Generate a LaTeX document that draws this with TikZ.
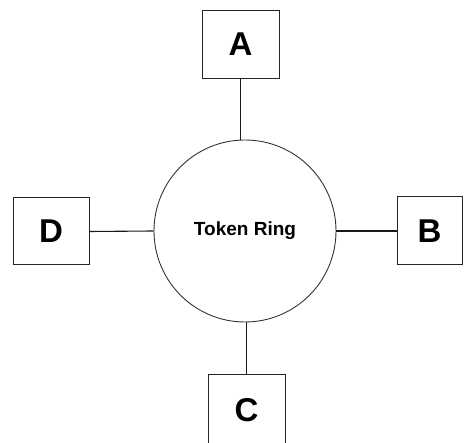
\documentclass[tikz,border=0pt]{standalone}
\usepackage{fontspec}
\setmainfont{Liberation Sans}
\begin{document}
\begin{tikzpicture}[x=1pt,y=-1pt,
  station/.style={draw=black!85, line width=1pt, minimum width=77pt, minimum height=68pt,
    inner sep=0pt, font=\fontsize{33}{33}\selectfont\bfseries},
  ringnode/.style={draw=black!80, line width=0.9pt, circle, minimum size=182pt, inner sep=0pt,
    font=\fontsize{19}{19}\selectfont\bfseries},
  link/.style={draw=black!90, line width=1.1pt}]
  \useasboundingbox (0,0) rectangle (467,443);
  \clip (0,0) rectangle (467,443);
  \node[ringnode] (ring) at (245,231) {Token Ring};
  \node[station] (A) at (240.5,44.5) {A};
  \node[station, minimum width=76pt, minimum height=67pt] (D) at (51,231.5) {D};
  \node[station, minimum width=65pt] (B) at (429.5,231) {B};
  \node[station, minimum height=80pt, text depth=0pt] (C) at (246.5,415) {};
  \node[font=\fontsize{33}{33}\selectfont\bfseries] (Clabel) at (246.5,410) {C};
  \draw[link] (A.south) -- (A.south |- ring.north);
  \draw[link] (D.east) -- (ring.west);
  \draw[link] (ring.east) -- (B.west);
  \draw[link] (C.north) -- (C.north |- ring.south);
\end{tikzpicture}
\end{document}
